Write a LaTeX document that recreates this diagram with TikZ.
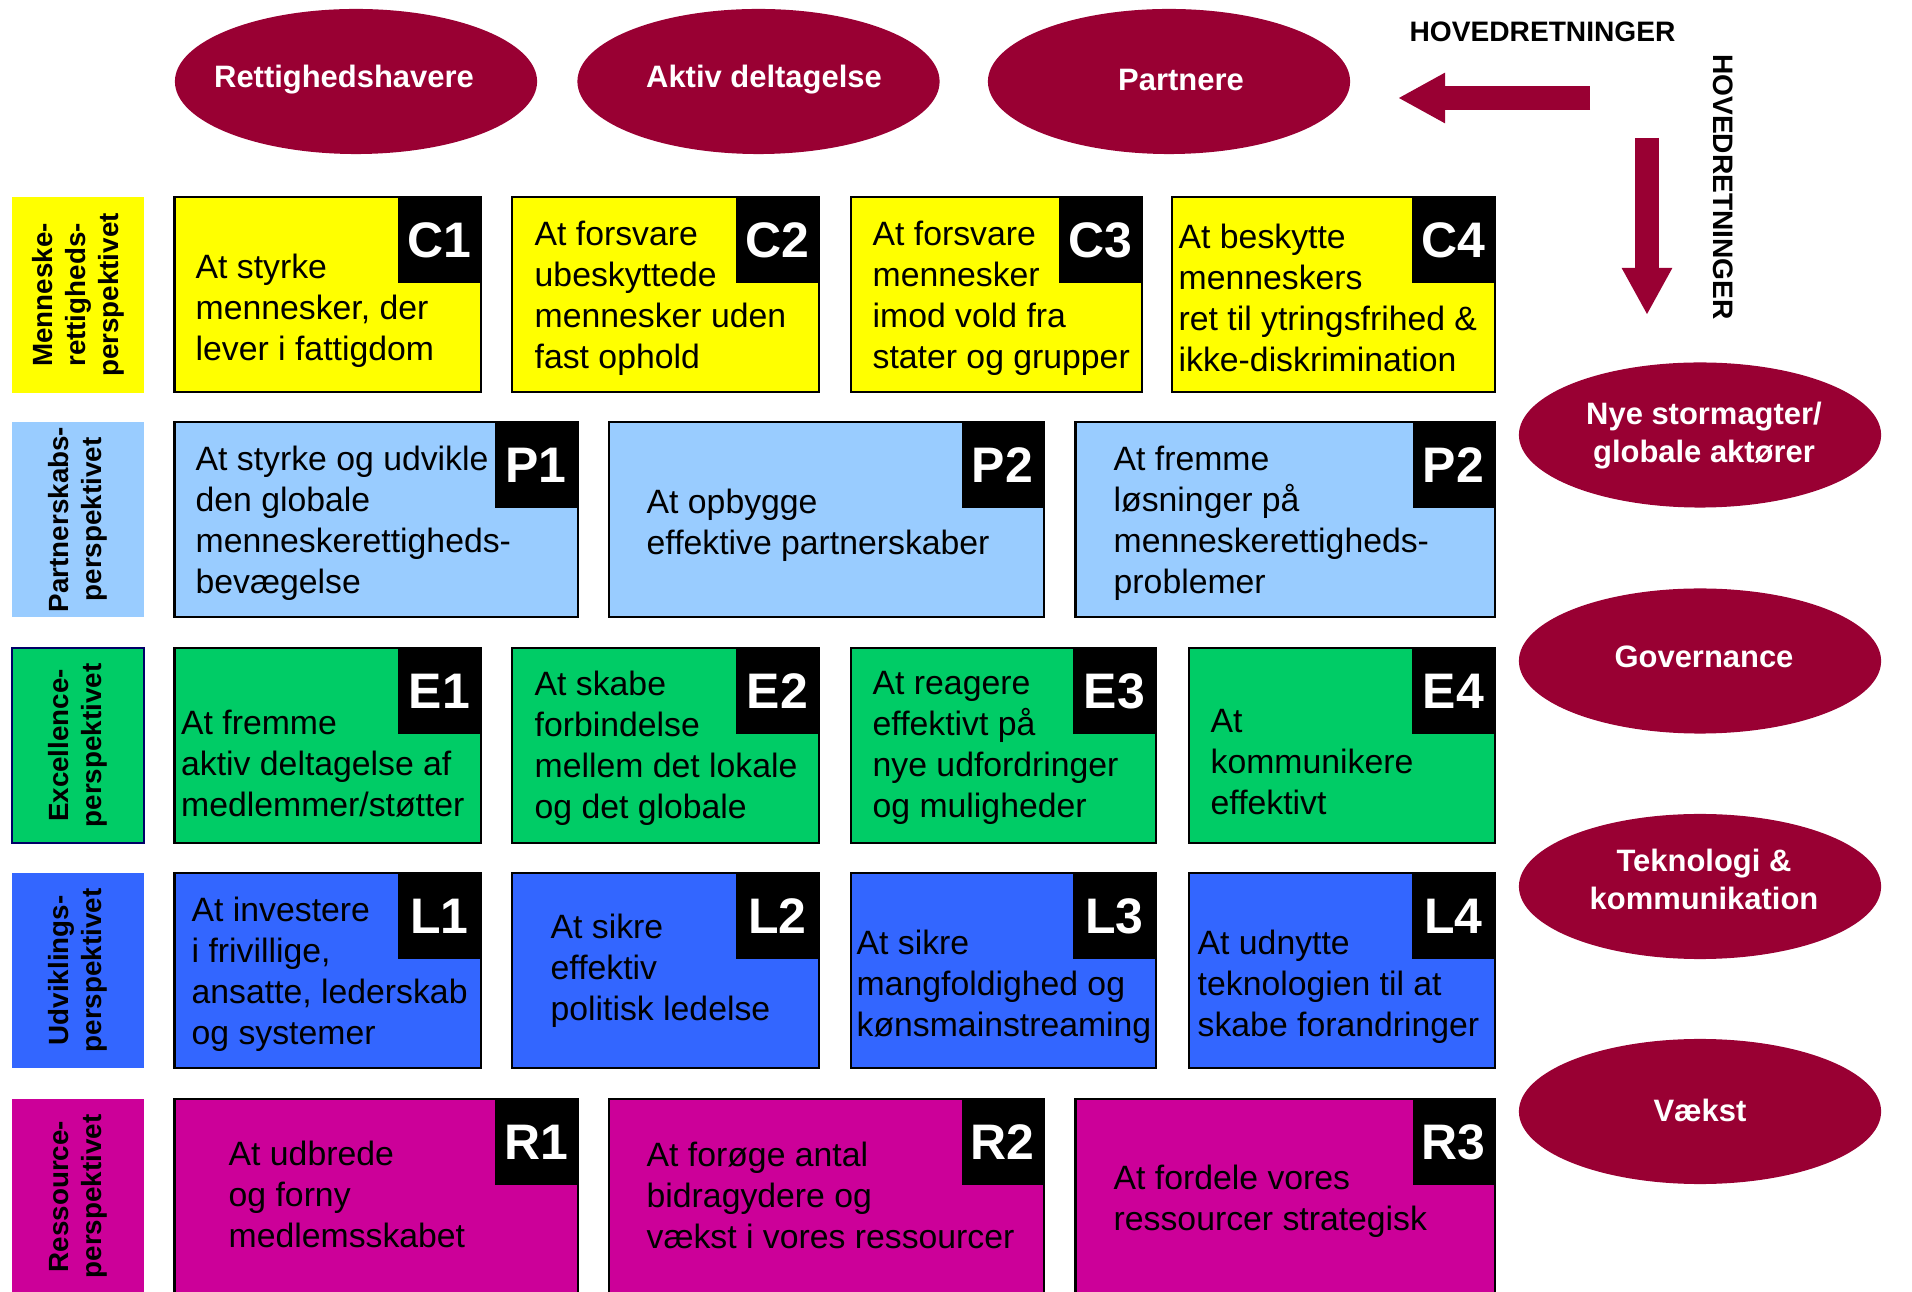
\documentclass[tikz,border=0pt]{standalone}
\usepackage{fontspec}
\setmainfont{Liberation Sans}
\usetikzlibrary{positioning, shapes.geometric, arrows.meta}

\definecolor{crim}{HTML}{990033}
\definecolor{yel}{HTML}{FFFF00}
\definecolor{ltblue}{HTML}{99CCFF}
\definecolor{grn}{HTML}{00CC66}
\definecolor{blu}{HTML}{3366FF}
\definecolor{mag}{HTML}{CC0099}
\definecolor{navy}{HTML}{000066}

\begin{document}
\begin{tikzpicture}[x=0.01cm, y=-0.01cm,
    aim/.style = {ellipse, fill=crim, inner sep=0pt, minimum width=3.62cm, minimum height=1.45cm},
    aimtxt/.style = {text=white, inner sep=0pt, align=center, font=\fontsize{8.8}{10.8}\selectfont\bfseries},
    side/.style = {rotate=90, inner sep=0pt, minimum width=1.95cm, minimum height=1.32cm, align=center, font=\fontsize{7.9}{9.4}\selectfont\bfseries},
    goal/.style = {draw=black, line width=0.7pt, anchor=north west, inner sep=0pt, outer sep=0pt, minimum height=1.95cm},
    tag/.style = {fill=black, text=white, inner sep=0pt, minimum width=0.82cm, minimum height=0.85cm, font=\fontsize{14.2}{14.2}\selectfont\bfseries},
    txt/.style = {anchor=west, inner sep=0pt, align=left, yshift=-0.02cm, font=\fontsize{9.6}{11.65}\selectfont},
    hdr/.style = {inner sep=0pt, font=\fontsize{8}{8}\selectfont\bfseries},
    bigarrow/.style = {draw=crim, line width=0.24cm, -{Triangle[length=0.47cm, width=0.47cm]}}]

    \useasboundingbox (0,0) rectangle (1912,1292);

    % main directions
    \node[aim] (rh) at (356,81.5)    {};
    \node[aim] (ad) at (758.5,81.5)  {};
    \node[aim] (pa) at (1169,81.5)   {};
    \node[aimtxt] (rht) at (344,80)   {Rettighedshavere};
    \node[aimtxt] (adt) at (764,80)   {Aktiv deltagelse};
    \node[aimtxt] (pat) at (1181,80)  {Partnere};

    \node[aim] (ns) at (1700,435)    {};
    \node[aim] (gv) at (1700,661)    {};
    \node[aim] (tk) at (1700,886.5)  {};
    \node[aim] (vk) at (1700,1111.5) {};
    \node[aimtxt] (nst) at (1704,436)   {Nye stormagter/\\globale aktører};
    \node[aimtxt] (gvt) at (1704,657)   {Governance};
    \node[aimtxt] (tkt) at (1704,879)   {Teknologi \&\\kommunikation};
    \node[aimtxt] (vkt) at (1700,1110)  {Vækst};

    \node[hdr] (hh) at (1542.5,32) {HOVEDRETNINGER};
    \node[hdr, rotate=-90] (hv) at (1723.5,187) {HOVEDRETNINGER};

    \coordinate (hl1) at (1590,98);
    \coordinate (hl2) at (1398,98);
    \coordinate (hd1) at (1647,138);
    \coordinate (hd2) at (1647,315);
    \draw[bigarrow] (hl1) -- (hl2);
    \draw[bigarrow] (hd1) -- (hd2);

    % perspectives
    \node[side, fill=yel]    (s1) at (78,295)    {Menneske-\\rettigheds-\\perspektivet};
    \node[side, fill=ltblue] (s2) at (78,519.5)  {Partnerskabs-\\perspektivet};
    \node[side, fill=grn, draw=navy, line width=0.6pt] (s3) at (78,745.5) {Excellence-\\perspektivet};
    \node[side, fill=blu]    (s4) at (78,970.5)  {Udviklings-\\perspektivet};
    \node[side, fill=mag]    (s5) at (78,1196.5) {Ressource-\\perspektivet};

    % row C
    \node[goal, fill=yel, minimum width=3.065cm] (c1) at (174.5,197) {};
    \node[tag] (c1n) [below left=0cm and 0cm of c1.north east] {C1};
    \node[txt] (c1t) at (195,309) {At styrke\\mennesker, der\\lever i fattigdom};

    \node[goal, fill=yel, minimum width=3.07cm] (c2) at (512,197) {};
    \node[tag] (c2n) [below left=0cm and 0cm of c2.north east] {C2};
    \node[txt] (c2t) at (534,296) {At forsvare\\ubeskyttede\\mennesker uden\\fast ophold};

    \node[goal, fill=yel, minimum width=2.91cm] (c3) at (851,197) {};
    \node[tag] (c3n) [below left=0cm and 0cm of c3.north east] {C3};
    \node[txt] (c3t) at (872,296) {At forsvare\\mennesker\\imod vold fra\\stater og grupper};

    \node[goal, fill=yel, minimum width=3.23cm] (c4) at (1172,197) {};
    \node[tag] (c4n) [below left=0cm and 0cm of c4.north east] {C4};
    \node[txt] (c4t) at (1178,296) {At beskytte\\menneskers\\ret til ytringsfrihed \&\\ikke-diskrimination};

    % row P
    \node[goal, fill=ltblue, minimum width=4.03cm] (p1) at (174.5,422) {};
    \node[tag] (p1n) [below left=0cm and 0cm of p1.north east] {P1};
    \node[txt] (p1t) at (195,521) {At styrke og udvikle\\den globale\\menneskerettigheds-\\bevægelse};

    \node[goal, fill=ltblue, minimum width=4.35cm] (p2) at (609,422) {};
    \node[tag] (p2n) [below left=0cm and 0cm of p2.north east] {P2};
    \node[txt] (p2t) at (646,523) {At opbygge\\effektive partnerskaber};

    \node[goal, fill=ltblue, minimum width=4.195cm] (p3) at (1075.5,422) {};
    \node[tag] (p3n) [below left=0cm and 0cm of p3.north east] {P2};
    \node[txt] (p3t) at (1113,521) {At fremme\\løsninger på\\menneskerettigheds-\\problemer};

    % row E
    \node[goal, fill=grn, minimum width=3.065cm] (e1) at (174.5,648) {};
    \node[tag] (e1n) [below left=0cm and 0cm of e1.north east] {E1};
    \node[txt] (e1t) at (180.5,761.5) {At fremme\\aktiv deltagelse af\\medlemmer/støtter};

    \node[goal, fill=grn, minimum width=3.07cm] (e2) at (512,648) {};
    \node[tag] (e2n) [below left=0cm and 0cm of e2.north east] {E2};
    \node[txt] (e2t) at (534,746) {At skabe\\forbindelse\\mellem det lokale\\og det globale};

    \node[goal, fill=grn, minimum width=3.05cm] (e3) at (851,648) {};
    \node[tag] (e3n) [below left=0cm and 0cm of e3.north east] {E3};
    \node[txt] (e3t) at (872,746) {At reagere\\effektivt på\\nye udfordringer\\og muligheder};

    \node[goal, fill=grn, minimum width=3.06cm] (e4) at (1189,648) {};
    \node[tag] (e4n) [below left=0cm and 0cm of e4.north east] {E4};
    \node[txt] (e4t) at (1210,760) {At\\kommunikere\\effektivt};

    % row L
    \node[goal, fill=blu, minimum width=3.065cm] (l1) at (174.5,873) {};
    \node[tag] (l1n) [below left=0cm and 0cm of l1.north east] {L1};
    \node[txt] (l1t) at (191,972) {At investere\\i frivillige,\\ansatte, lederskab\\og systemer};

    \node[goal, fill=blu, minimum width=3.07cm] (l2) at (512,873) {};
    \node[tag] (l2n) [below left=0cm and 0cm of l2.north east] {L2};
    \node[txt] (l2t) at (550,969) {At sikre\\effektiv\\politisk ledelse};

    \node[goal, fill=blu, minimum width=3.05cm] (l3) at (851,873) {};
    \node[tag] (l3n) [below left=0cm and 0cm of l3.north east] {L3};
    \node[txt] (l3t) at (856,985) {At sikre\\mangfoldighed og\\kønsmainstreaming};

    \node[goal, fill=blu, minimum width=3.06cm] (l4) at (1189,873) {};
    \node[tag] (l4n) [below left=0cm and 0cm of l4.north east] {L4};
    \node[txt] (l4t) at (1197,985) {At udnytte\\teknologien til at\\skabe forandringer};

    % row R
    \node[goal, fill=mag, minimum width=4.03cm] (r1) at (174.5,1099) {};
    \node[tag] (r1n) [below left=0cm and 0cm of r1.north east] {R1};
    \node[txt] (r1t) at (228,1192) {At udbrede\\og forny\\medlemsskabet};

    \node[goal, fill=mag, minimum width=4.35cm] (r2) at (609,1099) {};
    \node[tag] (r2n) [below left=0cm and 0cm of r2.north east] {R2};
    \node[txt] (r2t) at (646,1193) {At forøge antal\\bidragydere og\\vækst i vores ressourcer};

    \node[goal, fill=mag, minimum width=4.195cm] (r3) at (1075.5,1099) {};
    \node[tag] (r3n) [below left=0cm and 0cm of r3.north east] {R3};
    \node[txt] (r3t) at (1113,1199) {At fordele vores\\ressourcer strategisk};
\end{tikzpicture}
\end{document}
